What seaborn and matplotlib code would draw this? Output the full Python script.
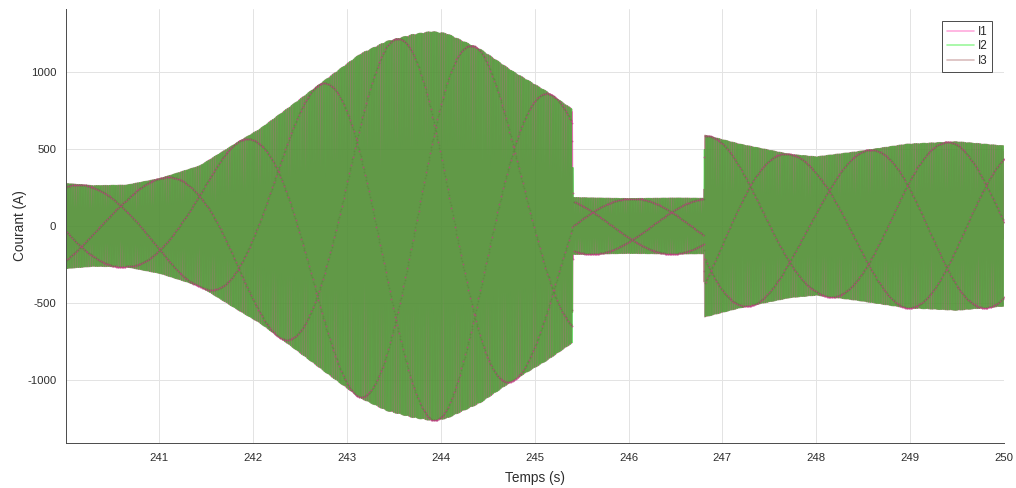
import numpy as np
import pandas as pd
import matplotlib
matplotlib.use("Agg")
import matplotlib.pyplot as plt
from matplotlib.colors import to_rgba
from matplotlib.lines import Line2D
import seaborn as sns

# Peak amplitude of the phase currents (A) at selected instants (s)
env_time = [240.00, 240.30, 240.65, 241.01, 241.43, 241.86, 242.07, 242.43,
            242.78, 243.14, 243.42, 243.70, 243.90, 244.06, 244.42, 244.77,
            245.13, 245.40,
            245.41, 246.00, 246.50, 246.80,
            246.81, 247.19, 247.72, 248.00, 248.43, 248.96, 249.50, 250.00]
env_amp = [277, 262, 266, 309, 391, 554, 630, 793,
           955, 1118, 1200, 1245, 1265, 1252, 1150, 1004,
           874, 760,
           185, 178, 182, 180,
           592, 532, 466, 450, 483, 532, 548, 521]

phases = ["I1", "I2", "I3"]
phase_shift_deg = [0.0, -120.0, 120.0]
colors = {"I1": "#e6289f", "I2": "#00c800", "I3": "#966050"}
legend_colors = ["#ffaadd", "#9cf79c", "#d9bcbc"]
sample_color = "#c03c82"
draw_order = ["I3", "I1", "I2"]

x_ticks = [241, 242, 243, 244, 245, 246, 247, 248, 249, 250]
y_ticks = [-1000, -500, 0, 500, 1000]

# Acquisition settings
t_start, t_stop = 240.006, 250.0
f_grid = 50.0           # network frequency (Hz)
f_beat = 0.3975         # drift between network and acquisition clock (Hz)
samples_per_cycle = 30
t_ref = 243.94          # instant where two sampled phases meet at +A/2

dt = 1.0 / (samples_per_cycle * (f_grid - f_beat))
t = t_start + dt * np.arange(int((t_stop - t_start) / dt) + 1)
amp = np.interp(t, env_time, env_amp)
theta0 = np.deg2rad(30.0) - 2 * np.pi * f_beat * (t_ref - t_start)

frames = []
for name, shift in zip(phases, phase_shift_deg):
    y = amp * np.sin(2 * np.pi * f_grid * (t - t_start) + theta0 + np.deg2rad(shift))
    frames.append(pd.DataFrame({"Temps": t, "Courant": y, "Phase": name}))
df = pd.concat(frames, ignore_index=True)

sns.set_style("white")
plt.rcParams["font.family"] = ["Liberation Sans", "DejaVu Sans"]
plt.rcParams["axes.unicode_minus"] = False

fig = plt.figure(figsize=(10.16, 4.88), dpi=100)
ax = fig.add_axes([66 / 1016, 1 - 443 / 488, 938 / 1016, 434 / 488])

for name in draw_order:
    sns.lineplot(data=df[df["Phase"] == name], x="Temps", y="Courant",
                 color=colors[name], estimator=None, sort=False, legend=False,
                 ax=ax, linewidth=0.9, marker="o", markersize=1.35,
                 markeredgewidth=0, markevery=10)

# semi-transparent strokes, faint sample dots
for line, name in zip(ax.lines, draw_order):
    line.set_alpha(None)
    line.set_color(to_rgba(colors[name], 0.55))
    line.set_markerfacecolor(to_rgba(sample_color, 0.7))

ax.set_xlim(t_start, t_stop)
ax.set_ylim(-1410, 1410)
ax.set_xticks(x_ticks)
ax.set_yticks(y_ticks)
ax.grid(True, color="#e3e3e3", linewidth=0.7)
ax.set_axisbelow(True)
for side in ["top", "right"]:
    ax.spines[side].set_visible(False)
for side in ["left", "bottom"]:
    ax.spines[side].set_color("#4a4a4a")
    ax.spines[side].set_linewidth(0.7)
ax.tick_params(direction="in", length=6.5, width=0.7, color="#4a4a4a",
               labelsize=8.2, labelcolor="#2e2e2e", pad=7)
ax.set_xlabel("Temps (s)", fontsize=9.8, color="#2e2e2e", labelpad=6)
ax.set_ylabel("Courant (A)", fontsize=9.8, color="#2e2e2e", labelpad=0)

handles = [Line2D([], [], color=c, lw=1.2) for c in legend_colors]
leg = ax.legend(handles, phases, loc="upper right",
                bbox_to_anchor=(0.987, 0.972), borderaxespad=0,
                fontsize=8.4, handlelength=2.3, handletextpad=0.3,
                labelspacing=0.22, borderpad=0.4, fancybox=False,
                framealpha=1, edgecolor="#4a4a4a")
leg.get_frame().set_linewidth(0.7)

fig.savefig("out.png", dpi=100)
